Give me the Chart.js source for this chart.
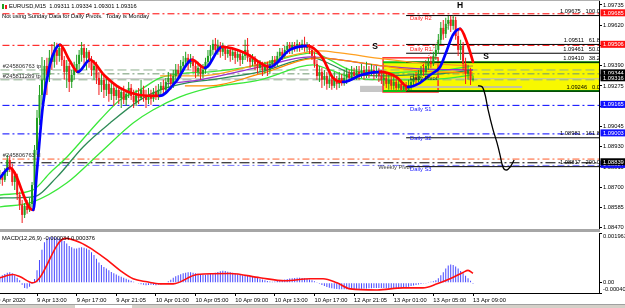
<!DOCTYPE html>
<html><head><meta charset="utf-8">
<script src="https://cdn.jsdelivr.net/npm/chart.js@4.4.1/dist/chart.umd.min.js"></script>
<style>
html,body{margin:0;padding:0;background:#fff;}
#wrap{position:relative;width:625px;height:308px;overflow:hidden;background:#fff;}
#main{position:absolute;left:0;top:0;width:625px;height:236px;}
#macd{position:absolute;left:0;top:232px;width:625px;height:76px;}
#sep{position:absolute;left:0;top:229px;width:600px;height:3px;background:#a6a6a6;}
#topline{position:absolute;left:0;top:0;width:600px;height:1px;background:#b0b0b0;}
#tabs{position:absolute;left:0;top:304px;width:625px;height:4px;background:#d4d0c8;border-top:1px solid #a0a0a0;}
#tab{position:absolute;left:75px;top:0;width:57px;height:4px;background:#fff;}
</style></head>
<body>
<div id="wrap">
<div id="topline"></div>
<canvas id="main" width="625" height="236"></canvas>
<div id="sep"></div>
<canvas id="macd" width="625" height="76"></canvas>
<div id="tabs"><div id="tab"></div></div>
</div>
<script>
// ================= DATA =================
const symbolName = 'EURUSD,M15';
const infoLine = 'Not using Sunday Data for Daily Pivots.  Today is Monday';

const timeTicks  = [-1, 15, 31, 47, 63, 79, 95, 111, 127, 143, 159, 175, 191];
const timeLabels = ['9 Apr 2020','9 Apr 13:00','9 Apr 17:00','9 Apr 21:05','10 Apr 01:00','10 Apr 05:00','10 Apr 09:00','10 Apr 13:00','10 Apr 17:00','12 Apr 21:05','13 Apr 01:00','13 Apr 05:00','13 Apr 09:00'];
const priceTicks = [1.09735,1.09620,1.09505,1.09390,1.09275,1.09160,1.09045,1.08930,1.08815,1.08700,1.08585,1.08470];
const macdTicks  = [0.001963, 0, -0.000401];

const openP = [
1.08742,1.08764,1.08742,1.08787,1.08855,1.08810,1.08730,1.08764,1.08657,1.08600,
1.08543,1.08594,1.08571,1.08605,1.08713,1.08912,1.09094,1.09224,1.09310,1.09389,
1.09338,1.09435,1.09412,1.09480,1.09446,1.09491,1.09423,1.09355,1.09389,1.09298,
1.09338,1.09366,1.09400,1.09452,1.09491,1.09435,1.09469,1.09412,1.09366,1.09389,
1.09321,1.09281,1.09310,1.09253,1.09287,1.09230,1.09264,1.09218,1.09253,1.09207,
1.09241,1.09196,1.09230,1.09264,1.09218,1.09185,1.09230,1.09207,1.09253,1.09218,
1.09196,1.09224,1.09202,1.09241,1.09218,1.09253,1.09276,1.09253,1.09298,1.09321,
1.09287,1.09332,1.09366,1.09344,1.09389,1.09412,1.09435,1.09400,1.09423,1.09389,
1.09355,1.09378,1.09344,1.09366,1.09412,1.09446,1.09480,1.09514,1.09480,1.09503,
1.09469,1.09491,1.09457,1.09480,1.09446,1.09469,1.09435,1.09457,1.09423,1.09446,
1.09480,1.09435,1.09412,1.09435,1.09400,1.09378,1.09400,1.09366,1.09389,1.09366,
1.09400,1.09423,1.09400,1.09446,1.09469,1.09446,1.09480,1.09503,1.09480,1.09508,
1.09491,1.09514,1.09491,1.09514,1.09491,1.09503,1.09480,1.09446,1.09400,1.09332,
1.09355,1.09310,1.09332,1.09287,1.09310,1.09276,1.09310,1.09287,1.09321,1.09298,
1.09321,1.09344,1.09321,1.09355,1.09332,1.09355,1.09344,1.09366,1.09344,1.09366,
1.09355,1.09366,1.09344,1.09355,1.09332,1.09310,1.09321,1.09287,1.09310,1.09276,
1.09298,1.09264,1.09287,1.09253,1.09276,1.09253,1.09276,1.09298,1.09321,1.09310,
1.09344,1.09366,1.09355,1.09389,1.09412,1.09400,1.09446,1.09480,1.09537,1.09605,
1.09571,1.09628,1.09650,1.09616,1.09650,1.09559,1.09480,1.09503,1.09400,1.09344,
1.09366,1.09311];
const highP = [
1.08798,1.08787,1.08810,1.08884,1.08878,1.08833,1.08787,1.08776,1.08674,1.08628,
1.08611,1.08628,1.08640,1.08730,1.08940,1.09139,1.09281,1.09440,1.09423,1.09435,
1.09480,1.09514,1.09525,1.09520,1.09514,1.09503,1.09446,1.09423,1.09406,1.09366,
1.09412,1.09452,1.09480,1.09525,1.09514,1.09491,1.09480,1.09446,1.09423,1.09412,
1.09355,1.09344,1.09332,1.09321,1.09310,1.09298,1.09287,1.09276,1.09276,1.09264,
1.09276,1.09253,1.09298,1.09287,1.09253,1.09253,1.09264,1.09310,1.09276,1.09253,
1.09264,1.09253,1.09264,1.09276,1.09287,1.09298,1.09310,1.09321,1.09355,1.09344,
1.09366,1.09400,1.09400,1.09423,1.09446,1.09469,1.09457,1.09457,1.09446,1.09412,
1.09412,1.09400,1.09400,1.09435,1.09480,1.09508,1.09537,1.09548,1.09537,1.09525,
1.09520,1.09503,1.09503,1.09491,1.09491,1.09480,1.09480,1.09469,1.09469,1.09537,
1.09548,1.09457,1.09457,1.09446,1.09423,1.09423,1.09412,1.09412,1.09412,1.09423,
1.09446,1.09446,1.09469,1.09491,1.09491,1.09503,1.09525,1.09525,1.09525,1.09525,
1.09537,1.09525,1.09537,1.09554,1.09525,1.09514,1.09491,1.09469,1.09423,1.09389,
1.09378,1.09366,1.09355,1.09344,1.09332,1.09355,1.09332,1.09355,1.09344,1.09366,
1.09378,1.09366,1.09389,1.09378,1.09389,1.09389,1.09400,1.09389,1.09412,1.09389,
1.09400,1.09389,1.09389,1.09378,1.09366,1.09355,1.09344,1.09344,1.09332,1.09344,
1.09321,1.09321,1.09310,1.09298,1.09298,1.09310,1.09321,1.09344,1.09355,1.09366,
1.09389,1.09400,1.09412,1.09435,1.09446,1.09469,1.09514,1.09571,1.09639,1.09650,
1.09662,1.09673,1.09673,1.09675,1.09668,1.09594,1.09537,1.09525,1.09435,1.09395,
1.09378,1.09334];
const lowP = [
1.08719,1.08708,1.08730,1.08764,1.08787,1.08708,1.08685,1.08628,1.08571,1.08497,
1.08526,1.08549,1.08560,1.08583,1.08696,1.08884,1.09054,1.09168,1.09253,1.09224,
1.09298,1.09366,1.09378,1.09395,1.09412,1.09389,1.09310,1.09264,1.09241,1.09264,
1.09310,1.09349,1.09355,1.09412,1.09389,1.09366,1.09378,1.09332,1.09310,1.09287,
1.09224,1.09241,1.09207,1.09218,1.09185,1.09196,1.09162,1.09196,1.09173,1.09150,
1.09173,1.09162,1.09207,1.09196,1.09150,1.09162,1.09173,1.09196,1.09185,1.09150,
1.09173,1.09168,1.09185,1.09196,1.09196,1.09218,1.09230,1.09230,1.09264,1.09253,
1.09264,1.09310,1.09310,1.09321,1.09355,1.09378,1.09366,1.09378,1.09355,1.09321,
1.09332,1.09310,1.09321,1.09344,1.09389,1.09412,1.09452,1.09457,1.09452,1.09435,
1.09446,1.09423,1.09435,1.09412,1.09423,1.09400,1.09412,1.09389,1.09400,1.09423,
1.09412,1.09378,1.09389,1.09366,1.09344,1.09355,1.09332,1.09344,1.09332,1.09344,
1.09378,1.09378,1.09389,1.09423,1.09423,1.09435,1.09457,1.09457,1.09457,1.09469,
1.09469,1.09469,1.09480,1.09469,1.09469,1.09457,1.09423,1.09378,1.09310,1.09298,
1.09264,1.09276,1.09253,1.09264,1.09253,1.09264,1.09253,1.09264,1.09276,1.09276,
1.09287,1.09298,1.09310,1.09310,1.09310,1.09310,1.09321,1.09310,1.09321,1.09321,
1.09332,1.09310,1.09321,1.09298,1.09287,1.09276,1.09264,1.09253,1.09253,1.09253,
1.09250,1.09253,1.09248,1.09250,1.09246,1.09250,1.09253,1.09276,1.09287,1.09298,
1.09321,1.09332,1.09344,1.09366,1.09378,1.09389,1.09423,1.09457,1.09514,1.09537,
1.09548,1.09594,1.09582,1.09594,1.09537,1.09446,1.09423,1.09366,1.09287,1.09310,
1.09281,1.09301];
const closeP = [
1.08764,1.08742,1.08787,1.08855,1.08810,1.08730,1.08764,1.08657,1.08600,1.08543,
1.08594,1.08571,1.08605,1.08713,1.08912,1.09094,1.09224,1.09310,1.09389,1.09338,
1.09435,1.09412,1.09480,1.09446,1.09491,1.09423,1.09355,1.09389,1.09298,1.09338,
1.09366,1.09400,1.09452,1.09491,1.09435,1.09469,1.09412,1.09366,1.09389,1.09321,
1.09281,1.09310,1.09253,1.09287,1.09230,1.09264,1.09218,1.09253,1.09207,1.09241,
1.09196,1.09230,1.09264,1.09218,1.09185,1.09230,1.09207,1.09253,1.09218,1.09196,
1.09224,1.09202,1.09241,1.09218,1.09253,1.09276,1.09253,1.09298,1.09321,1.09287,
1.09332,1.09366,1.09344,1.09389,1.09412,1.09435,1.09400,1.09423,1.09389,1.09355,
1.09378,1.09344,1.09366,1.09412,1.09446,1.09480,1.09514,1.09480,1.09503,1.09469,
1.09491,1.09457,1.09480,1.09446,1.09469,1.09435,1.09457,1.09423,1.09446,1.09480,
1.09435,1.09412,1.09435,1.09400,1.09378,1.09400,1.09366,1.09389,1.09366,1.09400,
1.09423,1.09400,1.09446,1.09469,1.09446,1.09480,1.09503,1.09480,1.09508,1.09491,
1.09514,1.09491,1.09514,1.09491,1.09503,1.09480,1.09446,1.09400,1.09332,1.09355,
1.09310,1.09332,1.09287,1.09310,1.09276,1.09310,1.09287,1.09321,1.09298,1.09321,
1.09344,1.09321,1.09355,1.09332,1.09355,1.09344,1.09366,1.09344,1.09366,1.09355,
1.09366,1.09344,1.09355,1.09332,1.09310,1.09321,1.09287,1.09310,1.09276,1.09298,
1.09264,1.09287,1.09253,1.09276,1.09253,1.09276,1.09298,1.09321,1.09310,1.09344,
1.09366,1.09355,1.09389,1.09412,1.09400,1.09446,1.09480,1.09537,1.09605,1.09571,
1.09628,1.09650,1.09616,1.09650,1.09559,1.09480,1.09503,1.09400,1.09344,1.09366,
1.09310,1.09316];

// colour-switching moving average  [bar, price]
const maLine = [[0,1.08753],[4,1.08810],[12,1.08583],[13.5,1.08571],[15,1.08798],[17.4,1.09168],[20.2,1.09395],[22.3,1.09480],[24.3,1.09508],
[28,1.09423],[31.5,1.09355],[36.4,1.09423],[42,1.09338],[48.5,1.09264],[56.5,1.09224],[64.5,1.09219],[71,1.09298],[77.6,1.09423],
[82.8,1.09378],[89.7,1.09497],[99,1.09463],[109,1.09383],[117,1.09480],[124.4,1.09503],[130,1.09440],[134.5,1.09321],[138.5,1.09298],
[146,1.09338],[153.5,1.09355],[160,1.09327],[164.8,1.09270],[169.6,1.09293],[173.7,1.09338],[177.7,1.09383],[180.5,1.09480],
[182.9,1.09565],[185.8,1.09599],[188.5,1.09525],[191,1.09412]];
const bandUpper = [[0,1.08656],[13.4,1.08685],[20.2,1.08781],[27.1,1.08872],[40.4,1.09082],[48.5,1.09196],[56.6,1.09253],[64.7,1.09321],[75.6,1.09349],[84.8,1.09355],[105,1.09395],[126.4,1.09463],[133.3,1.09423],[141.4,1.09366],[153.5,1.09349],[165.6,1.09355],[177.7,1.09361],[191,1.09389]];
const bandMid   = [[0,1.08639],[13.4,1.08645],[23.1,1.08759],[33.6,1.08929],[44.5,1.09065],[56.6,1.09196],[64.7,1.09253],[75.6,1.09293],[84.8,1.09310],[105,1.09355],[126.4,1.09435],[133.3,1.09400],[141.4,1.09349],[153.5,1.09332],[165.6,1.09338],[177.7,1.09344],[191,1.09366]];
const bandLower = [[0,1.08588],[13.4,1.08617],[27.1,1.08725],[40.4,1.08895],[53.8,1.09065],[61.8,1.09139],[72.7,1.09213],[84.8,1.09264],[105,1.09310],[126.4,1.09395],[133.3,1.09366],[141.4,1.09327],[153.5,1.09310],[165.6,1.09310],[177.7,1.09315],[191,1.09338]];
const purpleLine  = [[66.7,1.09287],[80.8,1.09310],[105,1.09383],[125.2,1.09440],[137.3,1.09423],[154.7,1.09389],[169.6,1.09372],[191,1.09366]];
const orangeLine1 = [[64.7,1.09332],[80.8,1.09332],[105,1.09400],[129.2,1.09474],[137.3,1.09463],[154.7,1.09429],[169.6,1.09406],[191,1.09389]];
const orangeLine2 = [[74.7,1.09276],[84.8,1.09276],[105,1.09344],[129.2,1.09435],[137.3,1.09423],[154.7,1.09389],[169.6,1.09361],[191,1.09349]];

// pivot levels
const levelNames  = ['Daily R2','Daily R1','Daily Pivot','Daily S1','Daily S2','Weekly Pivot','Daily S3'];
const levelValues = [1.09685, 1.09506, 1.09344, 1.09165, 1.09003, 1.08839, 1.08824];
const levelLabelAt = [165.6, 165.6, 165.6, 165.6, 165.6, 152.7, 165.6];
// order lines
const orderNames  = ['#245806763 tp', '#245811289 tp', '#245806763 sl'];
const orderValues = [1.09366, 1.09310, 1.08860];
// fibonacci
const fibLevels = [100.0, 61.8, 50.0, 38.2, 0.0, 161.8, 200.0];
const fibPrices = [1.09675, 1.09511, 1.09461, 1.09410, 1.09246, 1.08981, 1.08817];
const fibAnchors = [[164, 1.09246], [183.5, 1.09675]];
// zones / objects
const zoneTime  = [154.7, 260];  const zonePrice  = [1.09410, 1.09246];
const redBoxTime = [154.7, 176.9]; const redBoxPrice = [1.09435, 1.09241];
const grayBarTime = [145.4, 155.1]; const grayBarPrice = [1.09276, 1.09241];
const grayLine = [[161.5, 1.09270], [210.8, 1.09270]];
const projection = [[193.0,1.09276],[194.7,1.09270],[195.9,1.09224],[197.1,1.09139],[199.1,1.09026],[200.7,1.08952],[201.9,1.08884],[202.7,1.08832],[203.5,1.08804],[204.7,1.08798],[206.0,1.08815],[207.6,1.08855]];
const markTexts = ['S', 'H', 'S'];
const markTime  = [151.5, 185.8, 196.3];
const markPrice = [1.09497, 1.09730, 1.09440];

// MACD(12,26,9)
const macdMain = [
0.00025,0.00030,0.00035,0.00040,0.00042,0.00038,
0.00030,0.00020,0.00010,-0.00008,
-0.00020,-0.00022,-0.00015,-0.00005,0.00015,
0.00050,0.00090,0.00130,0.00160,0.00175,
0.00180,0.00182,0.00180,0.00179,0.00175,0.00170,0.00165,0.00155,
0.00145,0.00140,0.00135,0.00135,0.00138,0.00140,0.00138,0.00135,0.00130,
0.00120,0.00110,0.00095,0.00080,
0.00070,0.00062,0.00056,0.00050,0.00043,0.00038,0.00033,0.00028,
0.00024,0.00020,0.00016,0.00012,0.00008,0.00004,
0.00000,-0.00003,-0.00006,-0.00008,-0.00010,-0.00009,-0.00008,-0.00009,-0.00010,-0.00008,-0.00006,-0.00002,0.00002,0.00006,0.00012,0.00020,0.00026,
0.00030,0.00034,0.00038,0.00040,0.00042,0.00042,0.00040,0.00038,0.00036,0.00034,
0.00033,0.00032,0.00034,0.00036,0.00038,0.00040,0.00043,0.00046,0.00048,0.00047,0.00044,0.00042,0.00040,0.00037,0.00034,0.00032,0.00030,0.00030,0.00029,0.00027,0.00025,0.00022,0.00019,0.00016,
0.00013,0.00010,0.00007,0.00005,0.00004,0.00005,0.00007,0.00009,0.00011,0.00013,0.00015,0.00017,0.00018,0.00019,0.00020,0.00020,0.00019,0.00018,0.00016,0.00013,
0.00010,0.00006,0.00001,-0.00004,-0.00009,-0.00013,-0.00016,-0.00019,-0.00021,-0.00023,-0.00024,-0.00025,-0.00025,
-0.00025,-0.00025,-0.000245,-0.00024,-0.00024,-0.000235,-0.00023,-0.00023,-0.000225,-0.00022,-0.000215,-0.00021,-0.000205,-0.00020,-0.00020,-0.00020,-0.000205,-0.00021,-0.000215,-0.00022,-0.00022,-0.000215,-0.00021,-0.00020,-0.00019,-0.00017,-0.00015,
-0.00013,-0.00011,-0.00009,-0.00007,-0.00005,-0.00003,-0.00001,0.00001,0.00004,0.00006,0.00010,0.00018,0.00030,0.00042,0.00056,0.00068,0.00072,0.00070,0.00064,0.00056,0.00047,0.00038,0.00028,0.00018,0.00008,-0.000034];
const macdSignal = [[0,0.00020],[5.3,0.00033],[8,0.00025],[13.4,0.00000],[26.3,0.00175],[32.4,0.00159],[37.6,0.00130],[43.3,0.00090],[48.5,0.00049],[53.8,0.00016],[59.4,0.00004],[64.7,-0.00004],[70,-0.00004],[79.6,0.00033],[92.9,0.00037],[105,0.00020],[115.1,0.00008],[125.2,0.00016],[130.5,0.00016],[136.1,0.00000],[141.4,-0.00024],[152.3,-0.00028],[162.8,-0.00020],[170.8,-0.00020],[176.5,-0.00004],[181.7,0.00016],[187,0.00041],[189,0.00049],[191,0.000376]];

// ================= VIEW / STYLE =================
const X_MIN = 0.06, X_MAX = 241.86, FAR_L = -5, FAR_R = 260;
const Y_MIN = 1.084629, Y_MAX = 1.097577;
const M_MIN = -0.000401, M_MAX = 0.001963;
const FONT = '"Liberation Sans", Arial, sans-serif';
const FS = 5.75;
const BULL = '#1f9f1f', BEAR = '#f21c1c', MA_UP = '#0000ff', MA_DN = '#ff0000';
const levelStyle = {
  'Daily R2': {c:'#ff0000', t:'#ff2020', tag:'#ff1010', dash:[7,3,2,3]},
  'Daily R1': {c:'#ff0000', t:'#ff2020', tag:'#ff1010', dash:[7,3,2,3]},
  'Daily Pivot': {c:'#6f966f', t:'#202020', tag:'#000000', dash:[7,3,2,3]},
  'Daily S1': {c:'#0000ff', t:'#2020ff', tag:'#1010ff', dash:[7,3,2,3]},
  'Daily S2': {c:'#0000ff', t:'#2020ff', tag:'#1010ff', dash:[7,3,2,3]},
  'Daily S3': {c:'#7777ff', t:'#2020ff', tag:'#1010ff', dash:[7,3,2,3]},
  'Weekly Pivot': {c:'#000000', t:'#404040', tag:'#000000', dash:[10,3,2,3]}
};
const orderStyle = [{c:'#8fb08f', dash:[9,4]}, {c:'#8fb08f', dash:[9,4]}, {c:'#ff5a28', dash:[7,3,2,3]}];

const pts = arr => arr.map(([t, v]) => ({x: t, y: v}));
const hline = (v, t0, t1) => [{x: t0, y: v}, {x: t1, y: v}];
const idx = closeP.map((_, i) => i);
const lastI = closeP.length - 1;

// ================= MAIN CHART =================
const ds = [];
levelNames.forEach((n, i) => ds.push({type:'line', data: hline(levelValues[i], FAR_L, FAR_R), borderColor: levelStyle[n].c, borderWidth: 1, borderDash: levelStyle[n].dash, pointRadius: 0, order: 30}));
orderNames.forEach((n, i) => ds.push({type:'line', data: hline(orderValues[i], FAR_L, FAR_R), borderColor: orderStyle[i].c, borderWidth: 1, borderDash: orderStyle[i].dash, pointRadius: 0, order: 30}));
ds.push({type:'line', data: hline(closeP[lastI], FAR_L, FAR_R), borderColor:'#bdbdbd', borderWidth:1, pointRadius:0, order:31});
// zone borders
zonePrice.forEach(p => ds.push({type:'line', data: hline(p, zoneTime[0], zoneTime[1]), borderColor:'#10c010', borderWidth:2, pointRadius:0, order:26}));
// fibo lines
fibPrices.forEach(p => ds.push({type:'line', data: hline(p, fibAnchors[0][0], FAR_R), borderColor:'#000000', borderWidth:1, pointRadius:0, order:25}));
ds.push({type:'line', data: pts(fibAnchors), borderColor:'#ff0000', borderWidth:1, borderDash:[1,2], pointRadius:0, order:24});
ds.push({type:'line', data: pts(grayLine), borderColor:'#c4c49a', borderWidth:2, pointRadius:0, order:24});
// slow lines
const smooth = {pointRadius:0, cubicInterpolationMode:'monotone', borderWidth:1.3};
ds.push({type:'line', data: pts(bandUpper), borderColor:'#3ae83a', ...smooth, order:20});
ds.push({type:'line', data: pts(bandMid),   borderColor:'#2e8b57', ...smooth, order:20});
ds.push({type:'line', data: pts(bandLower), borderColor:'#3ae83a', ...smooth, order:20});
ds.push({type:'line', data: pts(orangeLine1), borderColor:'#ffa020', ...smooth, order:19});
ds.push({type:'line', data: pts(orangeLine2), borderColor:'#ff8c00', ...smooth, order:19});
ds.push({type:'line', data: pts(purpleLine),  borderColor:'#9932cc', ...smooth, order:19});
// candles
const candleCol = idx.map(i => closeP[i] >= openP[i] ? BULL : BEAR);
ds.push({type:'bar', data: idx.map(i => ({x:i, y:[lowP[i], highP[i]]})), backgroundColor: candleCol, barThickness:1, grouped:false, inflateAmount:0, order:10});
ds.push({type:'bar', data: idx.map(i => ({x:i, y:[Math.min(openP[i],closeP[i]), Math.max(openP[i],closeP[i])]})), backgroundColor: candleCol, barThickness:2, minBarLength:1, grouped:false, inflateAmount:0, order:9});
// projection and main MA
ds.push({type:'line', data: pts(projection), borderColor:'#000000', borderWidth:1.3, pointRadius:0, cubicInterpolationMode:'monotone', order:3});
ds.push({type:'line', data: pts(maLine), borderColor: MA_UP, borderWidth:2.7, pointRadius:0, cubicInterpolationMode:'monotone',
  borderCapStyle:'round', borderJoinStyle:'round',
  segment:{borderColor: c => c.p1.parsed.y >= c.p0.parsed.y ? MA_UP : MA_DN}, order:1});

function clipArea(ctx, a){ ctx.beginPath(); ctx.rect(a.left, a.top, a.right - a.left, a.bottom - a.top); ctx.clip(); }

const mainOverlay = {
  id: 'mainOverlay',
  beforeDatasetsDraw(chart){
    const {ctx, chartArea: a, scales: {x, y}} = chart;
    const rect = (t, p) => { const X0 = x.getPixelForValue(t[0]), X1 = x.getPixelForValue(t[1]), Y0 = y.getPixelForValue(p[0]), Y1 = y.getPixelForValue(p[1]);
      return [Math.min(X0,X1), Math.min(Y0,Y1), Math.abs(X1-X0), Math.abs(Y1-Y0)]; };
    ctx.save(); clipArea(ctx, a);
    ctx.fillStyle = '#f8f800'; ctx.fillRect(...rect(zoneTime, zonePrice));
    ctx.fillStyle = '#c6c6c6'; ctx.fillRect(...rect(grayBarTime, grayBarPrice));
    ctx.strokeStyle = '#ff2a2a'; ctx.lineWidth = 1.5; ctx.strokeRect(...rect(redBoxTime, redBoxPrice));
    ctx.restore();
  },
  afterDatasetsDraw(chart){
    const {ctx, chartArea: a, scales: {x, y}} = chart;
    ctx.save(); clipArea(ctx, a);
    ctx.font = FS + 'px ' + FONT;
    // pivot labels (below their line)
    ctx.textAlign = 'left'; ctx.textBaseline = 'top';
    levelNames.forEach((n, i) => { ctx.fillStyle = levelStyle[n].t; ctx.fillText(n, x.getPixelForValue(levelLabelAt[i]), y.getPixelForValue(levelValues[i]) + 1.5); });
    // order labels (above their line)
    ctx.fillStyle = '#303030'; ctx.textBaseline = 'bottom';
    orderNames.forEach((n, i) => ctx.fillText(n, x.getPixelForValue(1.2), y.getPixelForValue(orderValues[i]) - 1));
    // fibo descriptions
    ctx.textAlign = 'right'; ctx.fillStyle = '#000';
    fibPrices.forEach((p, i) => ctx.fillText(p.toFixed(5) + '   ' + fibLevels[i].toFixed(1), a.right + 1, y.getPixelForValue(p) - 1));
    // S / H marks
    ctx.font = 'bold 8.5px ' + FONT; ctx.textAlign = 'center'; ctx.textBaseline = 'middle'; ctx.fillStyle = '#000';
    markTexts.forEach((t, i) => ctx.fillText(t, x.getPixelForValue(markTime[i]), y.getPixelForValue(markPrice[i])));
    // header
    ctx.font = FS + 'px ' + FONT; ctx.textAlign = 'left'; ctx.fillStyle = '#000';
    const q = [openP[lastI], highP[lastI], lowP[lastI], closeP[lastI]].map(v => v.toFixed(5)).join(' ');
    ctx.fillText(symbolName + '  ' + q, a.left + 9, a.top + 5.5);
    ctx.fillText(infoLine, a.left + 2, a.top + 15);
    ctx.fillStyle = BULL; ctx.fillRect(a.left + 2, a.top + 3, 2, 5);
    ctx.fillStyle = BEAR; ctx.fillRect(a.left + 5, a.top + 4, 2, 4);
    ctx.restore();
  },
  afterDraw(chart){
    const {ctx, chartArea: a, scales: {y}} = chart;
    const tags = [];
    levelNames.forEach((n, i) => tags.push([levelValues[i], levelStyle[n].tag]));
    tags.push([closeP[lastI], '#000000']);
    // draw blue/red first, black last
    tags.sort((p, q) => (p[1] === '#000000') - (q[1] === '#000000'));
    ctx.save(); ctx.font = FS + 'px ' + FONT; ctx.textAlign = 'left'; ctx.textBaseline = 'middle';
    tags.forEach(([v, c]) => { const py = y.getPixelForValue(v) - 1; ctx.fillStyle = c; ctx.fillRect(a.right + 1.5, py - 3.5, 26, 7); ctx.fillStyle = '#fff'; ctx.fillText(v.toFixed(5), a.right + 4, py + 0.3); });
    ctx.restore();
  }
};

new Chart(document.getElementById('main'), {
  type: 'bar',
  data: {datasets: ds},
  options: {
    responsive: false, animation: false, devicePixelRatio: 1, events: [],
    layout: {padding: {top: 1, bottom: 7, left: 0, right: 0}},
    plugins: {legend: {display: false}, tooltip: {enabled: false}},
    scales: {
      x: {type: 'linear', min: X_MIN, max: X_MAX, display: false, offset: false},
      y: {type: 'linear', position: 'right', min: Y_MIN, max: Y_MAX,
        afterBuildTicks: s => { s.ticks = priceTicks.map(v => ({value: v})); },
        afterFit: s => { s.width = 26; s.paddingTop = 0; s.paddingBottom = 0; },
        ticks: {callback: v => v.toFixed(5), autoSkip: false, padding: 1, color: '#000', font: {family: FONT, size: FS}},
        grid: {drawOnChartArea: false, drawTicks: true, tickLength: 3, color: '#000'},
        border: {display: true, color: '#000'}}
    }
  },
  plugins: [mainOverlay]
});

// ================= MACD CHART =================
const macdOverlay = {
  id: 'macdOverlay',
  afterDraw(chart){
    const {ctx, chartArea: a, scales: {y}} = chart;
    ctx.save(); ctx.font = FS + 'px ' + FONT; ctx.fillStyle = '#000'; ctx.textAlign = 'left';
    ctx.textBaseline = 'top';    ctx.fillText(macdTicks[0].toFixed(6), a.right + 4, y.getPixelForValue(macdTicks[0]) + 0.5);
    ctx.textBaseline = 'middle'; ctx.fillText(macdTicks[1].toFixed(2), a.right + 4, y.getPixelForValue(macdTicks[1]));
    ctx.textBaseline = 'bottom'; ctx.fillText(macdTicks[2].toFixed(6), a.right + 4, y.getPixelForValue(macdTicks[2]) - 1);
    const sig = macdSignal[macdSignal.length - 1][1];
    ctx.textBaseline = 'middle';
    ctx.fillText('MACD(12,26,9) ' + macdMain[macdMain.length - 1].toFixed(6) + ' ' + sig.toFixed(6), a.left + 2, a.top + 5.5);
    ctx.restore();
  }
};

new Chart(document.getElementById('macd'), {
  type: 'bar',
  data: {datasets: [
    {type: 'line', data: pts(macdSignal), borderColor: '#ff1010', borderWidth: 1.6, pointRadius: 0, cubicInterpolationMode: 'monotone', order: 0},
    {type: 'bar', data: macdMain.map((v, i) => ({x: i, y: v})), backgroundColor: 'rgba(30,30,255,0.82)', barThickness: 1, grouped: false, inflateAmount: 0, order: 1}
  ]},
  options: {
    responsive: false, animation: false, devicePixelRatio: 1, events: [],
    layout: {padding: {top: 1, bottom: 0, left: 0, right: 0}},
    plugins: {legend: {display: false}, tooltip: {enabled: false}},
    scales: {
      x: {type: 'linear', min: X_MIN, max: X_MAX, position: 'bottom', offset: false,
        afterBuildTicks: s => { s.ticks = timeTicks.map(v => ({value: v})); },
        afterFit: s => { s.height = 15; s.paddingLeft = 0; s.paddingRight = 0; },
        ticks: {callback: (v, i) => timeLabels[i], align: 'start', autoSkip: false, maxRotation: 0, minRotation: 0, padding: 1, color: '#000', font: {family: FONT, size: FS}},
        grid: {drawOnChartArea: false, drawTicks: true, tickLength: 3, color: '#000', offset: false},
        border: {display: true, color: '#000'}},
      y: {type: 'linear', position: 'right', min: M_MIN, max: M_MAX,
        afterBuildTicks: s => { s.ticks = macdTicks.map(v => ({value: v})); },
        afterFit: s => { s.width = 26; s.paddingTop = 0; s.paddingBottom = 0; },
        ticks: {display: false},
        grid: {drawOnChartArea: false, drawTicks: true, tickLength: 3, color: '#000'},
        border: {display: true, color: '#000'}}
    }
  },
  plugins: [macdOverlay]
});
</script>
</body></html>
